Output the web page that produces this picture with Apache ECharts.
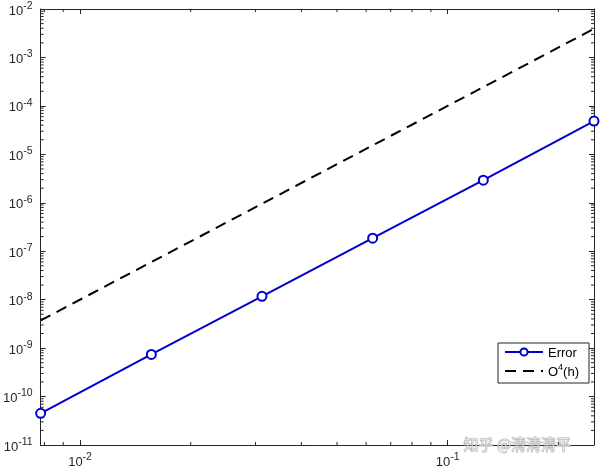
<!DOCTYPE html>
<html>
<head>
<meta charset="utf-8">
<script src="https://cdn.jsdelivr.net/npm/echarts@6/dist/echarts.min.js"></script>
<style>html,body{margin:0;padding:0;background:#fff;}#c{width:600px;height:471px;}</style>
</head>
<body>
<div id="c"></div>
<script>
const hValues = [1/128, 1/64, 1/32, 1/16, 1/8, 1/4];
const errorValues = [4.5e-11, 7.4e-10, 1.17e-8, 1.86e-7, 2.93e-6, 4.85e-5];
const orderValues = [3.73e-9, 5.96e-8, 9.54e-7, 1.53e-5, 2.44e-4, 3.91e-3];
const seriesNames = ['Error', 'O4(h)'];
const xRange = [1/128, 1/4];
const yRange = [1e-11, 1e-2];
const xMinorTicks = [8e-3, 9e-3, 2e-2, 3e-2, 4e-2, 5e-2, 6e-2, 7e-2, 8e-2, 9e-2, 2e-1];
const yMinorTicks = [];
for (let k = -11; k <= -3; k++) {
  for (let m = 2; m <= 9; m++) yMinorTicks.push(m * Math.pow(10, k));
}

const axisColor = '#262626';
const fam = 'Liberation Sans, Arial, sans-serif';
function powLabel(v) {
  const e = Math.log10(v);
  const r = Math.round(e);
  if (Math.abs(e - r) > 1e-6) return '';
  return '{b|10}{s|' + r + '}';
}
const richLabel = {
  b: {fontSize: 13, fontFamily: fam, color: axisColor, verticalAlign: 'bottom', lineHeight: 17},
  s: {fontSize: 10.5, fontFamily: fam, color: axisColor, verticalAlign: 'top', lineHeight: 17}
};

function xAxisDef(pos, showLabel) {
  return {
    type: 'log', logBase: 10, min: xRange[0], max: xRange[1], position: pos,
    axisLine: {show: true, lineStyle: {color: axisColor, width: 1}},
    axisTick: {show: true, inside: true, length: 5, lineStyle: {color: axisColor}},
    axisLabel: {show: showLabel, formatter: powLabel, rich: richLabel, margin: 7},
    splitLine: {show: false}
  };
}
function yAxisDef(pos, showLabel) {
  return {
    type: 'log', logBase: 10, min: yRange[0], max: yRange[1], position: pos,
    axisLine: {show: true, lineStyle: {color: axisColor, width: 1}},
    axisTick: {show: true, inside: true, length: 5, lineStyle: {color: axisColor}},
    axisLabel: {show: showLabel, formatter: powLabel, rich: richLabel, margin: 8},
    splitLine: {show: false}
  };
}

function minorTickRender(dir) {
  return function (params, api) {
    const cs = params.coordSys;
    const L = 3;
    const st = {stroke: axisColor, lineWidth: 1};
    if (dir === 'x') {
      const px = api.coord([api.value(0), yRange[0]])[0];
      return {type: 'group', children: [
        {type: 'line', shape: {x1: px, y1: cs.y + cs.height, x2: px, y2: cs.y + cs.height - L}, style: st},
        {type: 'line', shape: {x1: px, y1: cs.y, x2: px, y2: cs.y + L}, style: st}
      ]};
    } else {
      const py = api.coord([xRange[0], api.value(1)])[1];
      return {type: 'group', children: [
        {type: 'line', shape: {x1: cs.x, y1: py, x2: cs.x + L, y2: py}, style: st},
        {type: 'line', shape: {x1: cs.x + cs.width, y1: py, x2: cs.x + cs.width - L, y2: py}, style: st}
      ]};
    }
  };
}

const blue = '#0000cc';
const chart = echarts.init(document.getElementById('c'));
chart.setOption({
  animation: false,
  backgroundColor: '#fff',
  grid: {left: 39, top: 9, width: 555, height: 436, containLabel: false},
  xAxis: [xAxisDef('bottom', true), xAxisDef('top', false)],
  yAxis: [yAxisDef('left', true), yAxisDef('right', false)],
  legend: {
    data: [
      {name: seriesNames[0]},
      {name: seriesNames[1], itemStyle: {opacity: 0}}
    ],
    orient: 'vertical',
    right: 11, top: 343,
    backgroundColor: '#fff',
    borderColor: axisColor, borderWidth: 1,
    padding: [4, 10, 4, 6],
    itemGap: 3,
    itemWidth: 38, itemHeight: 9,
    textStyle: {fontSize: 13, fontFamily: fam, color: '#000',
      rich: {
        n: {fontSize: 13, fontFamily: fam, color: '#000', verticalAlign: 'bottom', lineHeight: 16},
        s: {fontSize: 9, fontFamily: fam, color: '#000', verticalAlign: 'top', lineHeight: 16}
      }},
    formatter: function (name) {
      if (name === 'O4(h)') return '{n|O}{s|4}{n|(h)}';
      return '{n|' + name + '}';
    }
  },
  series: [
    {
      name: seriesNames[0], type: 'line',
      data: hValues.map((h, i) => [h, errorValues[i]]),
      symbol: 'circle', symbolSize: 9, showSymbol: true,
      itemStyle: {color: '#fff', borderColor: blue, borderWidth: 2},
      lineStyle: {color: blue, width: 2},
      color: blue,
      z: 3
    },
    {
      name: seriesNames[1], type: 'line',
      data: hValues.map((h, i) => [h, orderValues[i]]),
      symbol: 'none',
      lineStyle: {color: '#000', width: 2, type: [11, 7]},
      color: '#000',
      z: 2
    },
    {
      type: 'custom', renderItem: minorTickRender('x'), silent: true,
      data: xMinorTicks.map(v => [v, yRange[0]]), z: 1
    },
    {
      type: 'custom', renderItem: minorTickRender('y'), silent: true,
      data: yMinorTicks.map(v => [xRange[0], v]), encode: {x: 0, y: 1}, z: 1
    }
  ],
  graphic: [{
    type: 'text', left: 463, top: 436, z: 100, silent: true,
    style: {text: '知乎 @清清清平', font: '15px "Noto Sans CJK SC", sans-serif',
      fill: 'rgba(255,255,255,0.6)', stroke: 'rgba(150,150,150,0.75)', lineWidth: 1}
  }]
});
</script>
</body>
</html>
